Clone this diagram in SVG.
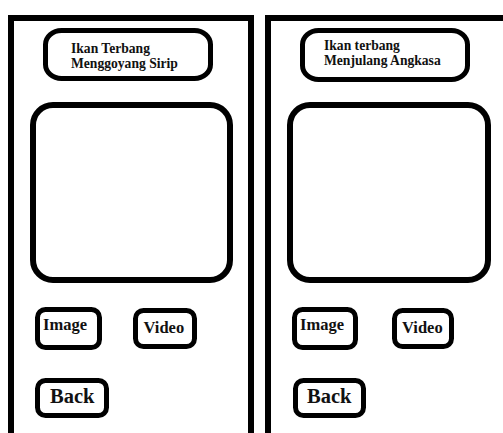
<svg xmlns="http://www.w3.org/2000/svg" width="503" height="433" viewBox="0 0 503 433">
  <style>
    .frame { fill: none; stroke: #000; stroke-width: 6; }
    .box { fill: #fff; stroke: #000; stroke-width: 5; }
    .screen { fill: #fff; stroke: #000; stroke-width: 6; }
    .lbl { font-family: "Liberation Serif", "Times New Roman", serif; font-weight: bold; fill: #111; }
    .title { font-size: 13.6px; }
    .btn { font-size: 16.5px; }
    .back { font-size: 20.5px; }
  </style>
  <rect width="503" height="433" fill="#fff"/>

  <!-- left phone -->
  <g id="phone-left">
    <path class="frame" d="M11 440 V18 H251 V440"/>
    <g id="title-left">
      <rect class="box" x="45.5" y="30.5" width="165" height="48" rx="16" ry="14"/>
      <text class="lbl title" x="71" y="52.5">Ikan Terbang</text>
      <text class="lbl title" x="71" y="68">Menggoyang Sirip</text>
    </g>
    <g id="screen-left">
      <rect class="screen" x="33" y="105" width="197" height="175" rx="20"/>
    </g>
    <g id="image-left">
      <rect class="box" x="37.5" y="309.5" width="62" height="38" rx="8"/>
      <text class="lbl btn" x="43" y="330">Image</text>
    </g>
    <g id="video-left">
      <rect class="box" x="135.5" y="310.5" width="59" height="36" rx="8"/>
      <text class="lbl btn" x="143.5" y="333">Video</text>
    </g>
    <g id="back-left">
      <rect class="box" x="37.5" y="380.5" width="69" height="35" rx="8"/>
      <text class="lbl back" x="50" y="403">Back</text>
    </g>
  </g>

  <!-- right phone -->
  <g id="phone-right">
    <path class="frame" d="M268 440 V18 H510"/>
    <g id="title-right">
      <rect class="box" x="302.5" y="30.5" width="165" height="49" rx="16" ry="14"/>
      <text class="lbl title" x="324" y="49.5">Ikan terbang</text>
      <text class="lbl title" x="324" y="65">Menjulang Angkasa</text>
    </g>
    <g id="screen-right">
      <rect class="screen" x="290" y="105" width="198" height="175" rx="20"/>
    </g>
    <g id="image-right">
      <rect class="box" x="294.5" y="309.5" width="61" height="38" rx="8"/>
      <text class="lbl btn" x="300" y="330">Image</text>
    </g>
    <g id="video-right">
      <rect class="box" x="394.5" y="310.5" width="57" height="36" rx="8"/>
      <text class="lbl btn" x="402" y="333">Video</text>
    </g>
    <g id="back-right">
      <rect class="box" x="295.5" y="380.5" width="68" height="35" rx="8"/>
      <text class="lbl back" x="307" y="403">Back</text>
    </g>
  </g>
</svg>
